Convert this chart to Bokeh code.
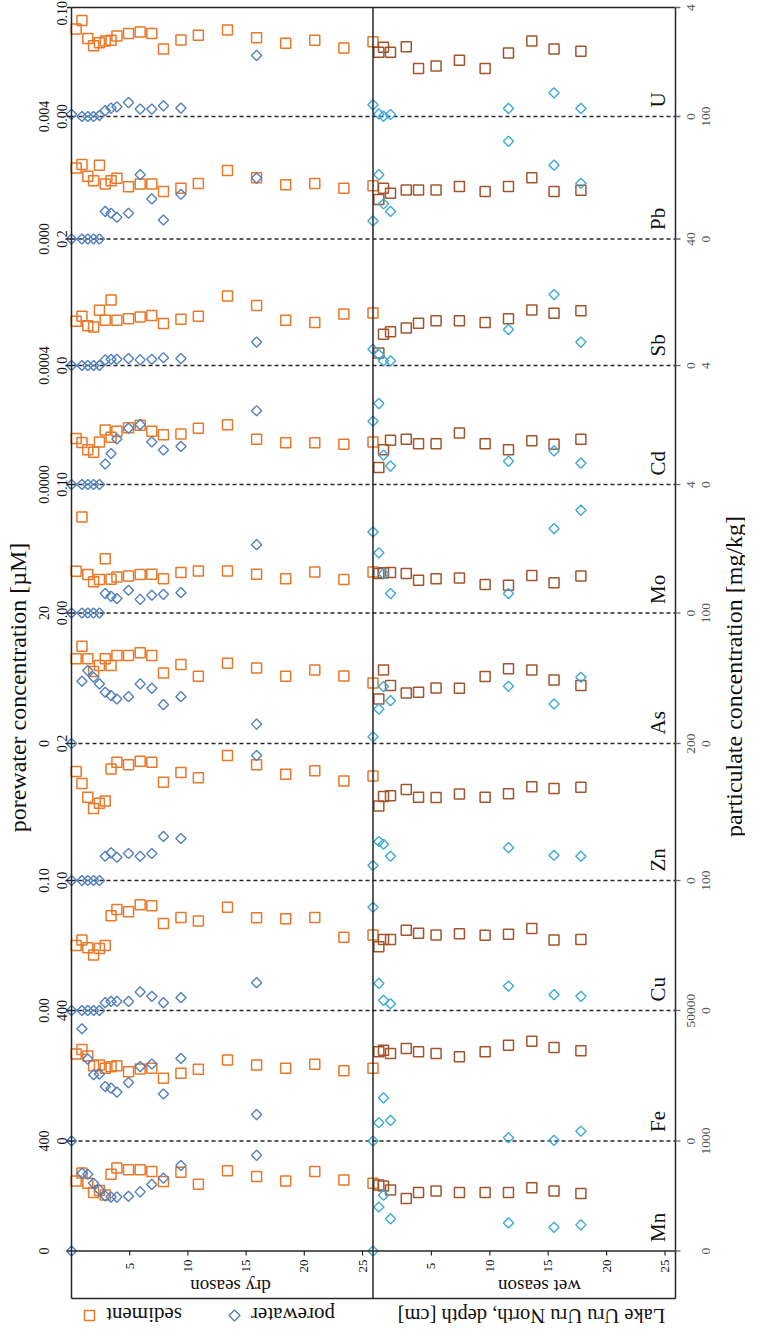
import numpy as np
from bokeh.plotting import figure
from bokeh.models import Range1d
from bokeh.embed import file_html
from bokeh.resources import INLINE
from bokeh.core.properties import value

# ---------------- data ----------------
elements = ["Mn", "Fe", "Cu", "Zn", "As", "Mo", "Cd", "Sb", "Pb", "U"]
pw_max = [400, 400, 0.10, 0.2, 20, 0.10, 0.0004, 0.2, 0.004, 0.10]
pw_tick_labels = [("0", "400"), ("0", "400"), ("0.00", "0.10"), ("0.0", "0.2"), ("0", "20"),
                  ("0.00", "0.10"), ("0.0000", "0.0004"), ("0.0", "0.2"), ("0.000", "0.004"), ("0.00", "0.10")]
part_max = [1000, 50000, 100, 200, 100, 4, 4, 40, 100, 4]
part_tick_labels = [("0", "1000"), ("0", "50000"), ("0", "100"), ("0", "200"), ("0", "100"),
                    ("0", "4"), ("0", "4"), ("0", "40"), ("0", "100"), ("0", "4")]
depth_ticks = [5, 10, 15, 20, 25]

dry_sed_depth = [0.4, 0.9, 1.4, 1.9, 2.4, 2.9, 3.4, 3.9, 4.9, 5.9, 6.9, 7.9, 9.4, 10.9, 13.4, 15.9, 18.4, 20.9, 23.4, 25.9]
dry_pw_depth = [0.0, 0.9, 1.4, 1.9, 2.4, 2.9, 3.4, 3.9, 4.9, 5.9, 6.9, 7.9, 9.4, 15.9]
wet_sed_depth = [0.5, 0.9, 1.5, 2.85, 3.9, 5.4, 7.4, 9.6, 11.6, 13.6, 15.5, 17.8]
wet_pw_depth = [0.0, 0.5, 0.9, 1.5, 11.6, 15.5, 17.8]

mn_dry_sed = [637, 708, 615, 532, 551, 508, 698, 754, 738, 738, 723, 631, 717, 606, 729, 677, 637, 723, 646, 615]
mn_dry_pw = [0, 283, 279, 246, 222, 200, 196, 196, 199, 215, 242, 265, 311, 348]
mn_wet_sed = [600, 591, 554, 477, 532, 545, 532, 532, 532, 575, 545, 523]
mn_wet_pw = [0, 160, 203, 117, 102, 86, 95]

fe_dry_sed = [33300, 35060, 32530, 28860, 29110, 27850, 28480, 28860, 26580, 27590, 27850, 24050, 25950, 27470, 31010, 29110, 27850, 29370, 26960, 27850]
fe_dry_pw = [0, 344, 251, 203, 205, 167, 162, 150, 179, 228, 236, 144, 253, 81]
fe_wet_sed = [34180, 34810, 33540, 35440, 34180, 33540, 32280, 34180, 36710, 38230, 35820, 34560]
fe_wet_pw = [0, 56, 132, 63, 10, 2, 30]

cu_dry_sed = [50.0, 54.2, 48.2, 42.7, 47.7, 50.0, 72.9, 77.6, 76.0, 81.3, 80.5, 66.9, 71.6, 68.8, 79.4, 71.4, 70.6, 71.6, 56.3, 58.1]
cu_dry_pw = [0, 0, 0, 0, 0, 0.0060, 0.0070, 0.0070, 0.0070, 0.0143, 0.0109, 0.0060, 0.0099, 0.0214]
cu_wet_sed = [49.0, 54.7, 54.7, 61.7, 59.4, 58.1, 59.1, 57.8, 58.6, 63.0, 54.2, 54.7]
cu_wet_pw = [0.0794, 0.0208, 0.0078, 0.0052, 0.0188, 0.0122, 0.0109]

zn_dry_sed = [159.1, 141.6, 121.7, 105.2, 112.7, 116.2, 162.6, 172.6, 169.1, 174.1, 172.6, 143.6, 157.6, 150.1, 182.5, 169.1, 155.1, 160.1, 145.1, 152.6]
zn_dry_pw = [0, 0, 0, 0, 0, 0.0354, 0.0404, 0.0339, 0.0394, 0.0354, 0.0394, 0.0643, 0.0613, 0.1825]
zn_wet_sed = [108.7, 122.7, 123.7, 132.7, 121.7, 121.2, 126.2, 121.7, 126.7, 136.7, 134.2, 136.2]
zn_wet_pw = [0.0219, 0.0569, 0.0529, 0.0354, 0.0479, 0.0369, 0.0354]

as_dry_sed = [64.9, 74.6, 64.9, 55.1, 59.7, 64.9, 59.7, 67.4, 67.4, 69.5, 67.4, 54.1, 60.5, 51.5, 61.5, 57.9, 51.5, 56.4, 51.8, 46.4]
as_dry_pw = [0, 9.54, 11.18, 10.15, 9.13, 7.85, 7.33, 6.82, 7.18, 9.13, 8.46, 5.95, 7.18, 2.97]
as_wet_sed = [34.1, 56.4, 44.4, 38.7, 39.2, 42.6, 42.3, 51.3, 57.2, 56.4, 48.7, 44.4]
as_wet_pw = [1.03, 5.28, 8.72, 6.56, 8.77, 6.05, 10.15]

mo_dry_sed = [1.30, 2.99, 1.20, 0.97, 1.04, 1.69, 1.05, 1.12, 1.15, 1.20, 1.21, 1.07, 1.26, 1.31, 1.31, 1.21, 1.07, 1.28, 1.04, 1.28]
mo_dry_pw = [0, 0, 0, 0, 0, 0.0151, 0.0130, 0.0112, 0.0177, 0.0106, 0.0138, 0.0145, 0.0158, 0.0532]
mo_wet_sed = [1.23, 1.25, 1.26, 1.23, 1.02, 1.07, 1.09, 0.89, 0.86, 1.17, 0.94, 1.15]
mo_wet_pw = [0.0631, 0.0468, 0.0306, 0.0151, 0.0151, 0.0657, 0.080]

cd_dry_sed = [1.55, 1.41, 1.17, 1.08, 1.43, 1.83, 1.59, 1.79, 1.91, 1.99, 1.79, 1.67, 1.70, 1.89, 2.01, 1.52, 1.40, 1.40, 1.35, 1.43]
cd_dry_pw = [0, 0, 0, 0, 0, 0.000069, 0.000104, 0.000153, 0.000189, 0.000201, 0.000143, 0.000116, 0.000128, 0.000248]
cd_wet_sed = [0.57, 1.17, 1.49, 1.52, 1.37, 1.37, 1.73, 1.37, 1.17, 1.47, 1.35, 1.52]
cd_wet_pw = [0.000213, 0.000272, 0.000099, 0.000062, 0.000078, 0.000113, 0.000072]

sb_dry_sed = [14.0, 15.6, 12.6, 12.2, 17.5, 14.3, 20.7, 14.3, 14.8, 15.3, 15.8, 13.3, 14.6, 15.6, 22.0, 19.0, 14.3, 13.6, 16.3, 16.6]
sb_dry_pw = [0, 0, 0, 0, 0, 0.0089, 0.0099, 0.0099, 0.0109, 0.0089, 0.0099, 0.0123, 0.0109, 0.0370]
sb_wet_sed = [3.95, 9.88, 10.67, 11.85, 13.33, 14.12, 14.12, 13.63, 14.81, 17.58, 16.49, 17.28]
sb_wet_pw = [0.0257, 0.0173, 0.0074, 0.0074, 0.0568, 0.1121, 0.0370]

pb_dry_sed = [58.0, 60.8, 51.3, 47.6, 60.2, 44.8, 47.6, 49.6, 42.6, 44.8, 44.8, 38.7, 41.5, 45.4, 56.0, 49.9, 44.3, 45.4, 41.5, 43.4]
pb_dry_pw = [0, 0, 0, 0, 0, 0.00090, 0.00084, 0.00071, 0.00084, 0.00210, 0.00131, 0.00062, 0.00146, 0.00199]
pb_wet_sed = [32.2, 41.5, 37.3, 40.1, 40.1, 40.1, 42.9, 38.7, 42.9, 49.9, 38.7, 39.8]
pb_wet_pw = [0.00059, 0.00210, 0.00115, 0.00090, 0.00319, 0.00241, 0.00182]

u_dry_sed = [3.21, 3.52, 2.86, 2.60, 2.71, 2.77, 2.80, 2.95, 3.05, 3.10, 3.05, 2.48, 2.81, 2.98, 3.17, 2.89, 2.69, 2.80, 2.51, 2.74]
u_dry_pw = [0.002, 0, 0, 0, 0.0009, 0.0054, 0.0077, 0.0089, 0.0128, 0.0068, 0.0068, 0.0098, 0.0077, 0.056]
u_wet_sed = [2.36, 2.54, 2.36, 2.56, 1.76, 1.85, 2.06, 1.76, 2.33, 2.77, 2.48, 2.39]
u_wet_pw = [0.0107, 0.0024, 0.0003, 0.0018, 0.0074, 0.0217, 0.0074]

dry_sed = dict(zip(elements, [mn_dry_sed, fe_dry_sed, cu_dry_sed, zn_dry_sed, as_dry_sed, mo_dry_sed, cd_dry_sed, sb_dry_sed, pb_dry_sed, u_dry_sed]))
dry_pw = dict(zip(elements, [mn_dry_pw, fe_dry_pw, cu_dry_pw, zn_dry_pw, as_dry_pw, mo_dry_pw, cd_dry_pw, sb_dry_pw, pb_dry_pw, u_dry_pw]))
wet_sed = dict(zip(elements, [mn_wet_sed, fe_wet_sed, cu_wet_sed, zn_wet_sed, as_wet_sed, mo_wet_sed, cd_wet_sed, sb_wet_sed, pb_wet_sed, u_wet_sed]))
wet_pw = dict(zip(elements, [mn_wet_pw, fe_wet_pw, cu_wet_pw, zn_wet_pw, as_wet_pw, mo_wet_pw, cd_wet_pw, sb_wet_pw, pb_wet_pw, u_wet_pw]))

# ---------------- layout (page pixel positions) ----------------
W, H = 745, 1328
OFF = 8
def cx(px):
    return px - OFF
def cy(py):
    return OFF + H - py

X_LEFT, X_DIV, X_RIGHT = 79.0, 380.5, 683.0
Y_TOP, Y_AXIS, Y_BOX = 15.0, 1258.5, 1306.0
EDGES = [1258.5, 1148.5, 1018.0, 888.0, 751.0, 620.5, 492.0, 373.0, 246.5, 124.0, 15.0]
DEPTH_MAX = 25.9

C_DRY_SED = "#E8782A"
C_DRY_PW = "#5280BE"
C_WET_SED = "#A2552C"
C_WET_PW = "#3BA9D9"
C_LINE = "#262626"
FONT = value("Liberation Serif")


def lin_range(v0, c0, v1, c1, total):
    s = (v1 - v0) / (c1 - c0)
    start = v0 - c0 * s
    return Range1d(start=start, end=start + total * s)


p = figure(width=W, height=H, x_range=Range1d(0, W), y_range=Range1d(0, H),
           output_backend="svg", toolbar_location=None, min_border=0,
           x_axis_type=None, y_axis_type=None, outline_line_color=None,
           background_fill_color="white", border_fill_color="white")
p.title.visible = False

p.extra_x_ranges = {
    "dry": lin_range(0, cx(X_LEFT), DEPTH_MAX, cx(X_DIV), W),
    "wet": lin_range(0, cx(X_DIV), DEPTH_MAX, cx(X_RIGHT), W),
}
yr = {}
for i, el in enumerate(elements):
    yr["pw_" + el] = lin_range(0, cy(EDGES[i]), pw_max[i], cy(EDGES[i + 1]), H)
    yr["part_" + el] = lin_range(0, cy(EDGES[i]), part_max[i], cy(EDGES[i + 1]), H)
p.extra_y_ranges = yr

# dashed panel separators
inner_edges = EDGES[1:-1]
p.segment(x0=[cx(X_LEFT)] * len(inner_edges), x1=[cx(X_RIGHT)] * len(inner_edges),
          y0=[cy(e) for e in inner_edges], y1=[cy(e) for e in inner_edges],
          line_color=C_LINE, line_width=1.3, line_dash="4 3")

# data
SQ = 10
DI = 7.2
for el in elements:
    p.scatter(x=dry_sed_depth, y=dry_sed[el], marker="square", size=SQ, fill_color=None,
              line_color=C_DRY_SED, line_width=1.5, x_range_name="dry", y_range_name="part_" + el)
    p.scatter(x=wet_sed_depth, y=wet_sed[el], marker="square", size=SQ, fill_color=None,
              line_color=C_WET_SED, line_width=1.5, x_range_name="wet", y_range_name="part_" + el)
    p.scatter(x=dry_pw_depth, y=dry_pw[el], marker="square", angle=np.pi / 4, size=DI, fill_color=None,
              line_color=C_DRY_PW, line_width=1.4, x_range_name="dry", y_range_name="pw_" + el)
    p.scatter(x=wet_pw_depth, y=wet_pw[el], marker="square", angle=np.pi / 4, size=DI, fill_color=None,
              line_color=C_WET_PW, line_width=1.4, x_range_name="wet", y_range_name="pw_" + el)

# frame lines
fx0 = [X_LEFT, X_RIGHT, X_DIV, X_LEFT, X_LEFT, X_LEFT]
fy0 = [Y_TOP, Y_TOP, Y_TOP, Y_TOP, Y_BOX, Y_AXIS]
fx1 = [X_LEFT, X_RIGHT, X_DIV, X_RIGHT, X_RIGHT, X_RIGHT]
fy1 = [Y_BOX, Y_BOX, Y_BOX, Y_TOP, Y_BOX, Y_AXIS]
p.segment(x0=[cx(v) for v in fx0], y0=[cy(v) for v in fy0], x1=[cx(v) for v in fx1], y1=[cy(v) for v in fy1],
          line_color=C_LINE, line_width=1.5)

# concentration axis ticks
p.segment(x0=[cx(X_LEFT - 4.5)] * len(EDGES), x1=[cx(X_LEFT)] * len(EDGES),
          y0=[cy(e) for e in EDGES], y1=[cy(e) for e in EDGES], line_color=C_LINE, line_width=1.3)
p.segment(x0=[cx(X_RIGHT)] * len(EDGES), x1=[cx(X_RIGHT + 5)] * len(EDGES),
          y0=[cy(e) for e in EDGES], y1=[cy(e) for e in EDGES], line_color="#666666", line_width=1.3)

# depth ticks + labels
for rn in ("dry", "wet"):
    p.segment(x0=depth_ticks, x1=depth_ticks, y0=[cy(Y_AXIS)] * 5, y1=[cy(Y_AXIS + 4.5)] * 5,
              line_color=C_LINE, line_width=1.2, x_range_name=rn)
    p.text(x=depth_ticks, y=[cy(1273.5)] * 5, text=[str(t) for t in depth_ticks], angle=np.pi / 2,
           text_font=FONT, text_font_size="13px", text_align="center", text_baseline="middle",
           text_color="#111111", x_range_name=rn)

# concentration tick labels (alternating inner / outer columns)
LX = {"outer": 51.5, "inner": 69.0}
RX = {"outer": 713.0, "inner": 698.0}
lx, ly, lt, la, rx, ry, rt = [], [], [], [], [], [], []
n_el = len(elements)
for i, el in enumerate(elements):
    col = "outer" if i % 2 == 0 else "inner"
    for k, (e, lab) in enumerate(zip((EDGES[i], EDGES[i + 1]), pw_tick_labels[i])):
        top_end = (i == n_el - 1 and k == 1)
        lx.append(cx(LX[col]))
        ly.append(cy(8.5) if top_end else cy(e))
        la.append("right" if top_end else "center")
        lt.append(lab)
    for k, (e, lab) in enumerate(zip((EDGES[i], EDGES[i + 1]), part_tick_labels[i])):
        rx.append(cx(RX[col])); ry.append(cy(e)); rt.append(lab)
p.text(x=lx, y=ly, text=lt, angle=np.pi / 2, text_font=FONT, text_font_size="14px",
       text_align=la, text_baseline="middle", text_color="#111111")
p.text(x=rx, y=ry, text=rt, angle=np.pi / 2, text_font=FONT, text_font_size="13.5px",
       text_align="center", text_baseline="middle", text_color="#555555")

# element labels
p.text(x=[cx(665)] * n_el, y=[cy(EDGES[i] - 9) for i in range(n_el)], text=elements,
       angle=np.pi / 2, text_font=FONT, text_font_size="21px", text_align="left",
       text_baseline="middle", text_color="#111111")

# axis titles
p.text(x=[cx(25)], y=[cy(695)], text=["porewater concentration [\u00b5M]"], angle=np.pi / 2,
       text_font=FONT, text_font_size="24px", text_align="center", text_baseline="middle", text_color="#111111")
p.text(x=[cx(741)], y=[cy(684)], text=["particulate concentration [mg/kg]"], angle=np.pi / 2,
       text_font=FONT, text_font_size="24px", text_align="center", text_baseline="middle", text_color="#111111")

# upside-down texts below the frame
p.text(x=[cx(238), cx(547)], y=[cy(1293.5)] * 2, text=["dry season", "wet season"], angle=np.pi,
       text_font=FONT, text_font_size="19px", text_align="center", text_baseline="middle", text_color="#111111")
p.text(x=[cx(539)], y=[cy(1323)], text=["Lake Uru Uru North, depth [cm]"], angle=np.pi,
       text_font=FONT, text_font_size="20.5px", text_align="center", text_baseline="middle", text_color="#111111")
p.text(x=[cx(151.5), cx(300.5)], y=[cy(1322)] * 2, text=["sediment", "porewater"], angle=np.pi,
       text_font=FONT, text_font_size="21px", text_align="center", text_baseline="middle", text_color="#111111")
# legend markers
p.scatter(x=[cx(97)], y=[cy(1323)], marker="square", size=SQ, fill_color=None, line_color=C_DRY_SED, line_width=1.5)
p.scatter(x=[cx(242)], y=[cy(1323)], marker="square", angle=np.pi / 4, size=DI + 0.5, fill_color=None,
          line_color=C_DRY_PW, line_width=1.4)

open("out.html", "w").write(file_html(p, INLINE))
